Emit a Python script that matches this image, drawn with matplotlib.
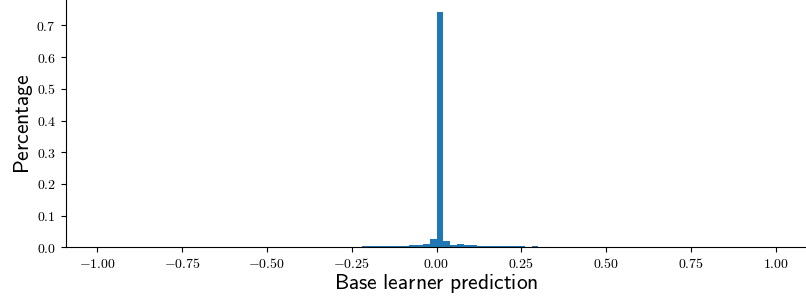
import matplotlib
matplotlib.use("Agg")
import matplotlib.pyplot as plt
import numpy as np

plt.rcParams['mathtext.fontset'] = 'cm'

# bin left edges (width 0.02) and their percentage heights
bin_width = 0.02
bin_lefts = [-0.22, -0.20, -0.18, -0.16, -0.14, -0.12, -0.10,
             -0.08, -0.06, -0.04, -0.02, 0.00, 0.02, 0.04, 0.06,
             0.08, 0.10, 0.12, 0.14, 0.16, 0.18, 0.20, 0.22, 0.24,
             0.26, 0.28]
heights = [0.003, 0.003, 0.003, 0.003, 0.003, 0.003, 0.003,
           0.008, 0.008, 0.012, 0.026, 0.742, 0.020, 0.006, 0.011,
           0.007, 0.007, 0.004, 0.004, 0.004, 0.004, 0.004, 0.004, 0.004,
           0.0, 0.004]

xticks = [-1.0, -0.75, -0.5, -0.25, 0.0, 0.25, 0.5, 0.75, 1.0]
yticks = [0.0, 0.1, 0.2, 0.3, 0.4, 0.5, 0.6, 0.7]

fig = plt.figure(figsize=(8.06, 3.05), dpi=100)
ax = fig.add_axes([0.0815, 0.189, 0.9185, 0.811])

ax.bar(bin_lefts, heights, width=bin_width, align='edge', color='#1f77b4')

ax.set_xlim(-1.093, 1.089)
ax.set_ylim(0, 0.78)
ax.set_xticks(xticks)
ax.set_xticklabels([r'$%.2f$' % t if t >= 0 else r'$-%.2f$' % abs(t) for t in xticks], fontsize=10)
ax.set_yticks(yticks)
ax.set_yticklabels([r'$%.1f$' % t for t in yticks], fontsize=10)

ax.spines['top'].set_visible(False)
ax.spines['right'].set_visible(False)

ax.set_xlabel(r'$\mathsf{Base\ learner\ prediction}$', fontsize=15.5, labelpad=1)
ax.set_ylabel(r'$\mathsf{Percentage}$', fontsize=15.5, labelpad=1)

fig.savefig('out.png', dpi=100)
